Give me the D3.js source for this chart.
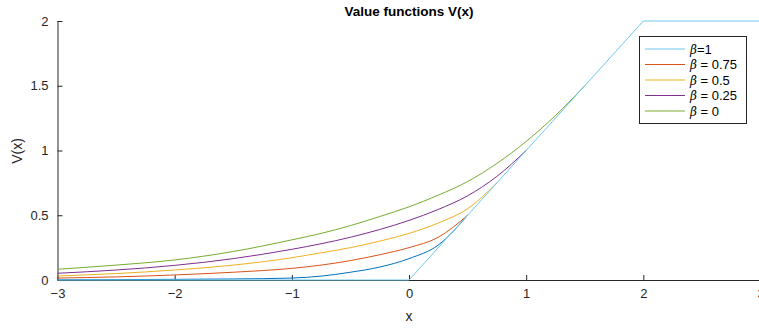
<!DOCTYPE html>
<html><head><meta charset="utf-8">
<script src="https://cdn.jsdelivr.net/npm/d3@7"></script>
<style>body{margin:0;background:#fff;} svg{display:block;font-family:"Liberation Sans",Arial,Helvetica,sans-serif;}</style>
</head><body><svg id="c" width="759" height="329"></svg>
<script>
// Data (null = curve has joined the kinked line beneath the light-blue line)
const xs      = [-3, -2.5, -2, -1.5, -1, -0.75, -0.5, -0.25, 0, 0.25, 0.5, 0.75, 1, 1.25, 1.5];
const vBlue   = [0.002, 0.003, 0.005, 0.008, 0.015, 0.03, 0.06, 0.1, 0.165, 0.27, 0.5, null, null, null, null];
const vOrange = [0.015, 0.024, 0.039, 0.06, 0.09, 0.115, 0.15, 0.195, 0.25, 0.33, 0.5, null, null, null, null];
const vYellow = [0.031, 0.05, 0.077, 0.115, 0.172, 0.21, 0.25, 0.3, 0.36, 0.44, 0.55, 0.75, null, null, null];
const vPurple = [0.052, 0.077, 0.113, 0.165, 0.237, 0.28, 0.33, 0.39, 0.46, 0.545, 0.65, 0.8, 1.0, null, null];
const vGreen  = [0.083, 0.115, 0.155, 0.22, 0.31, 0.36, 0.42, 0.49, 0.565, 0.655, 0.76, 0.9, 1.07, 1.27, 1.5];
const kinkX   = [-3, 0, 2, 3];
const kinkV   = [0, 0, 2, 2];
const xTicks  = [-3, -2, -1, 0, 1, 2, 3];
const yTicks  = [0, 0.5, 1, 1.5, 2];
const legendLabels = ["=1", " = 0.75", " = 0.5", " = 0.25", " = 0"];

const svg = d3.select("#c");
const x = d3.scaleLinear().domain([-3, 3]).range([57.5, 760.5]);
const y = d3.scaleLinear().domain([0, 2]).range([280, 21]);
const axisColor = "#262626";

const line = d3.line().defined(d => d[1] !== null)
  .x(d => x(d[0])).y(d => y(d[1])).curve(d3.curveMonotoneX);
const series = [
  {v: vBlue, c: "#0072BD"},
  {v: vOrange, c: "#D95319"},
  {v: vYellow, c: "#EDB120"},
  {v: vPurple, c: "#7E2F8E"},
  {v: vGreen, c: "#77AC30"}
];

// axes
const xAxis = d3.axisBottom(x).tickValues(xTicks).tickSize(-5).tickPadding(9).tickFormat(d3.format("d"));
const gx = svg.append("g").attr("transform", "translate(0,280)").call(xAxis);
const yAxis = d3.axisLeft(y).tickValues(yTicks).tickSize(-5).tickPadding(9).tickFormat(d => String(d));
const gy = svg.append("g").attr("transform", "translate(57.5,0)").call(yAxis);
[gx, gy].forEach(g => {
  g.selectAll("path.domain").attr("stroke", axisColor);
  g.selectAll(".tick line").attr("stroke", axisColor);
  g.selectAll(".tick text").attr("fill", "#262626").style("font-size", "13px").style("font-family", '"Liberation Sans",Arial,sans-serif');
});
gx.select("path.domain").attr("d", `M${x(-3)},0.5H${x(3)}`);
gy.select("path.domain").attr("d", `M0.5,${y(2)}V${y(0)}`);

series.forEach(s => {
  svg.append("path").datum(xs.map((xv, i) => [xv, s.v[i]]))
    .attr("d", line).attr("fill", "none").attr("stroke", s.c).attr("stroke-width", 1);
});
svg.append("path").datum(kinkX.map((xv, i) => [xv, kinkV[i]]))
  .attr("d", d3.line().x(d => x(d[0])).y(d => y(d[1])))
  .attr("fill", "none").attr("stroke", "#6cc7ee").attr("stroke-width", 1);

// title & labels
svg.append("text").attr("x", 409).attr("y", 16).attr("text-anchor", "middle")
  .style("font-size", "13.5px").style("font-weight", "bold").attr("fill", "#000").text("Value functions V(x)");
svg.append("text").attr("x", 409).attr("y", 321).attr("text-anchor", "middle")
  .style("font-size", "14px").attr("fill", "#262626").text("x");
svg.append("text").attr("transform", "translate(22,151) rotate(-90)").attr("text-anchor", "middle")
  .style("font-size", "14px").attr("fill", "#262626").text("V(x)");

// legend
const legColors = ["#6cc7ee", "#D95319", "#EDB120", "#7E2F8E", "#77AC30"];
const lg = svg.append("g");
lg.append("rect").attr("x", 639.5).attr("y", 36.5).attr("width", 107).attr("height", 87)
  .attr("fill", "#fff").attr("stroke", "#262626").attr("stroke-width", 1);
legendLabels.forEach((lab, i) => {
  const yy = 49 + i * 15.5;
  lg.append("line").attr("x1", 645).attr("x2", 685).attr("y1", yy).attr("y2", yy)
    .attr("stroke", legColors[i]).attr("stroke-width", 1);
  const t = lg.append("text").attr("x", 690).attr("y", yy + 4.5).style("font-size", "13px").attr("fill", "#000");
  t.append("tspan").style("font-style", "italic").style("font-family", '"DejaVu Serif",serif').style("font-size", "12px").text("β");
  t.append("tspan").text(lab);
});
</script></body></html>
